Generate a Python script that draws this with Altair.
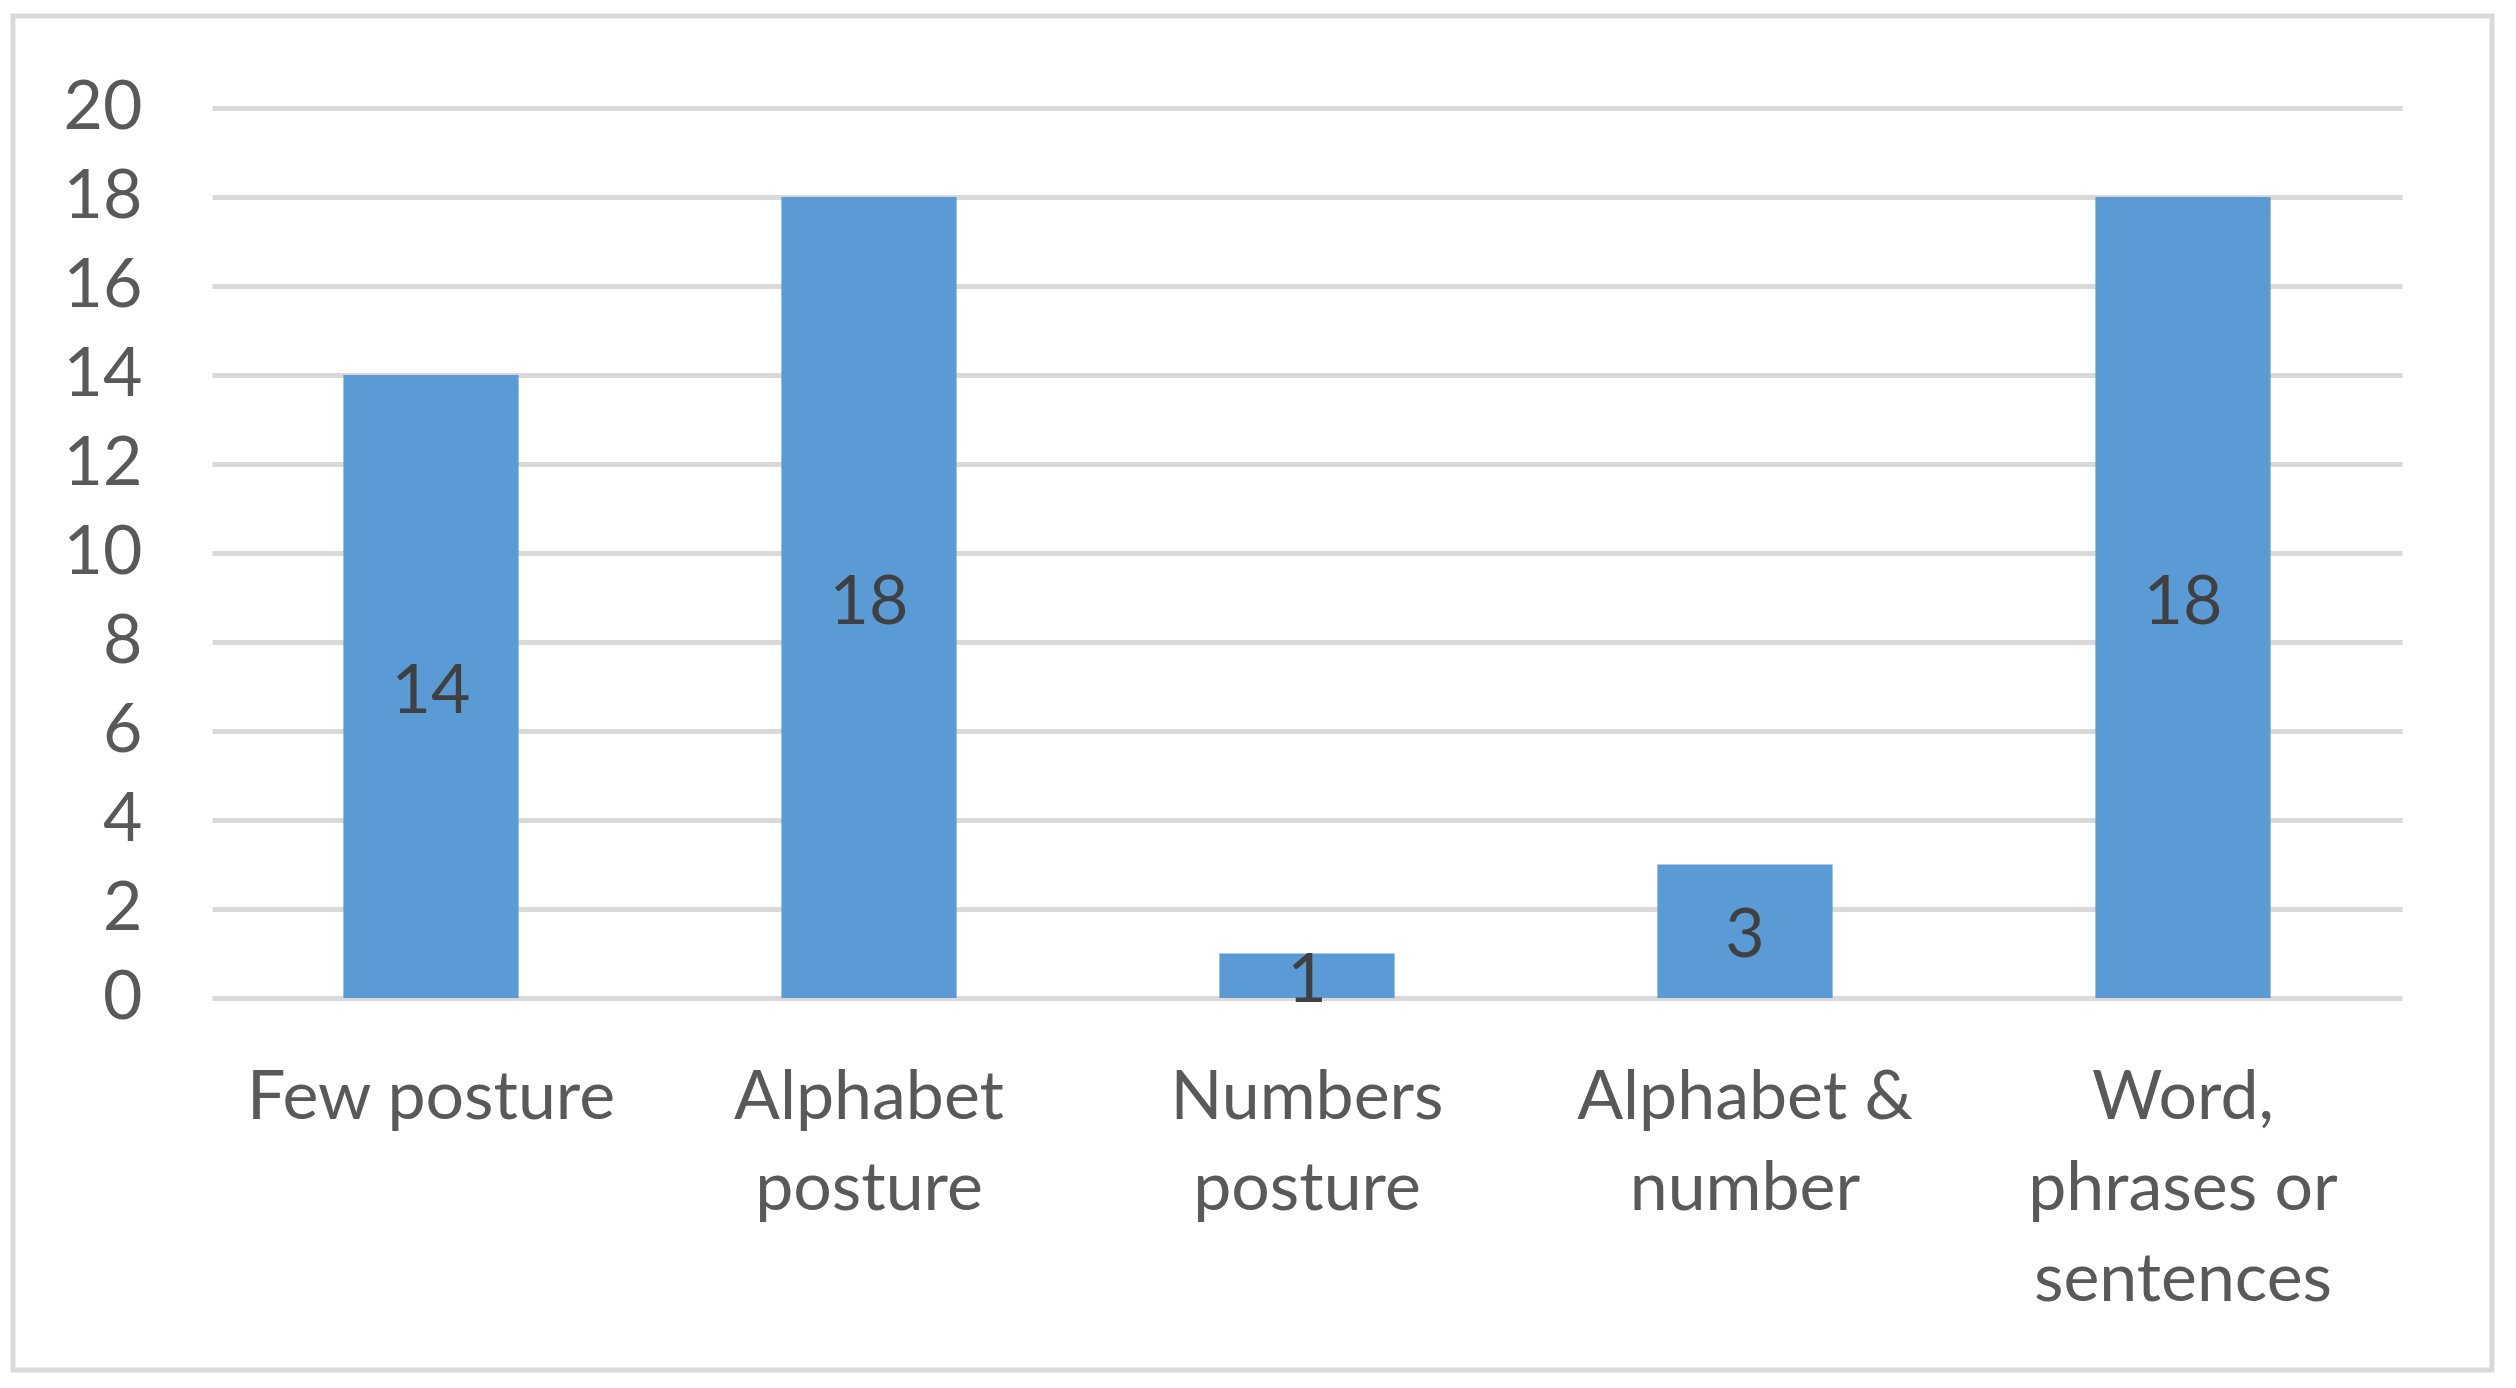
import altair as alt
import pandas as pd

categories = ["Few posture", "Alphabet\nposture", "Numbers\nposture",
              "Alphabet &\nnumber", "Word,\nphrases or\nsentences"]
values = [14, 18, 1, 3, 18]
y_ticks = [0, 2, 4, 6, 8, 10, 12, 14, 16, 18, 20]

FONT = "Lato"
df = pd.DataFrame({"category": categories, "value": values})

x_enc = alt.X(
    "category:N", sort=categories, title=None,
    scale=alt.Scale(paddingInner=0.6, paddingOuter=0.3),
    axis=alt.Axis(labelAngle=0, labelExpr="split(datum.label, '\\n')",
                  labelFontSize=68, labelLineHeight=91, labelPadding=66,
                  labelColor="#595959", labelFont=FONT, domain=False,
                  ticks=False, labelLimit=1000, grid=False),
)

y_enc = alt.Y(
    "value:Q", title=None,
    scale=alt.Scale(domain=[0, 20], nice=False),
    axis=alt.Axis(values=y_ticks, grid=True, gridColor="#D9D9D9", gridWidth=5,
                  domain=False, ticks=False, labelFontSize=68, labelPadding=70,
                  labelColor="#595959", labelFont=FONT),
)

base = alt.Chart(df)

bars = base.mark_bar(color="#5B9BD5").encode(x=x_enc, y=y_enc)

labels = base.transform_calculate(mid="datum.value / 2").mark_text(
    font=FONT, fontSize=68, color="#404040", baseline="middle", align="center", dy=6
).encode(
    x=alt.X("category:N", sort=categories),
    y=alt.Y("mid:Q"),
    text=alt.Text("value:Q"),
)

frame = alt.Chart(pd.DataFrame({"f": [0]})).mark_rect(
    fill=None, stroke="#D9D9D9", strokeWidth=5
).encode(
    x=alt.value(-199), x2=alt.value(2280),
    y=alt.value(-92), y2=alt.value(1262),
)

chart = alt.layer(frame, bars, labels).properties(
    width=2190, height=890,
    autosize=alt.AutoSizeParams(type="none"),
    padding={"left": 204, "top": 100, "right": 102, "bottom": 375},
    background="white",
).configure_view(stroke=None)

chart.save("out.html", embed_options={"renderer": "svg", "actions": False})
